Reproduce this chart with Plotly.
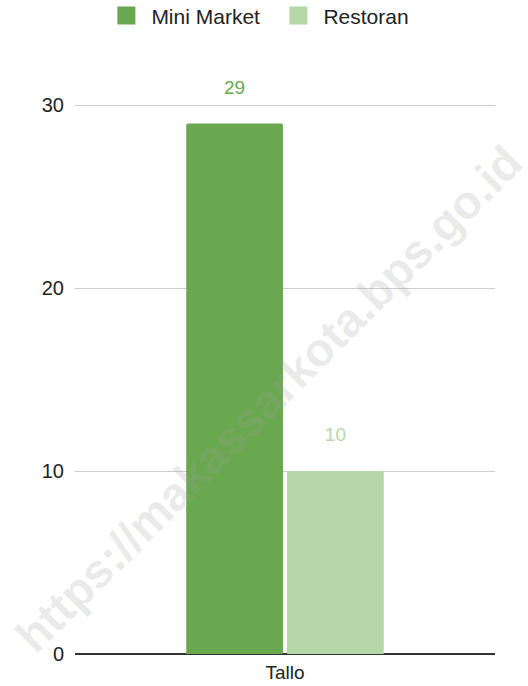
import plotly.graph_objects as go

categories = ["Tallo"]
mini_market = [29]
restoran = [10]
y_ticks = [0, 10, 20, 30]

green = "#6aa84f"
light_green = "#b6d7a8"

fig = go.Figure()
fig.add_trace(go.Bar(x=categories, y=mini_market, name="Mini Market", showlegend=False,
                     marker=dict(color=green, line=dict(width=0)),
                     text=mini_market,
                     texttemplate="%{y}<br><span style='font-size:9px'> </span>",
                     textposition="outside",
                     textfont=dict(color=green, size=19), cliponaxis=False))
fig.add_trace(go.Bar(x=categories, y=restoran, name="Restoran", showlegend=False,
                     marker=dict(color=light_green, line=dict(width=0)),
                     text=restoran,
                     texttemplate="%{y}<br><span style='font-size:9px'> </span>",
                     textposition="outside",
                     textfont=dict(color=light_green, size=19), cliponaxis=False))

# legend-only entries, so the squares are bigger
for name, col in [("Mini Market", green), ("Restoran", light_green)]:
    fig.add_trace(go.Scatter(x=[None], y=[None], mode="markers", name=name,
                             marker=dict(symbol="square", size=19, color=col,
                                         line=dict(width=2, color=col))))

# watermark
fig.add_annotation(text="<b>https://makassarkota.bps.go.id</b>", xref="paper", yref="paper",
                   x=0.462, y=0.45, showarrow=False, textangle=-45,
                   font=dict(size=47, color="rgba(160,160,160,0.22)", family="Arial"))

fig.update_layout(
    width=528, height=686,
    paper_bgcolor="white", plot_bgcolor="white",
    font=dict(family="Arial", size=19, color="#222222"),
    margin=dict(l=75, r=33, t=87, b=32),
    barmode="group", bargap=0.52, bargroupgap=0.04, barcornerradius=2,
    showlegend=True,
    legend=dict(orientation="h", x=0.192, xanchor="left", xref="container",
                y=0.977, yref="container", yanchor="middle", itemsizing="trace",
                itemwidth=40, entrywidth=117, tracegroupgap=0,
                font=dict(size=21, color="#222222")),
    xaxis=dict(showgrid=False, ticks="", automargin=False, ticklabelstandoff=5,
               tickfont=dict(size=19, color="#222222")),
    yaxis=dict(range=[0, 31], tickvals=y_ticks, showgrid=True, gridcolor="#cccccc",
               gridwidth=1, zeroline=True, zerolinecolor="#333333", zerolinewidth=1.5,
               ticks="", ticklabelstandoff=10, automargin=False,
               tickfont=dict(size=20, color="#222222")),
)

# drop the default body margin so the figure fills the window
fig.write_html("out.html", config={"displayModeBar": False},
               post_script="document.body.style.margin='0';document.body.style.overflow='hidden';")
